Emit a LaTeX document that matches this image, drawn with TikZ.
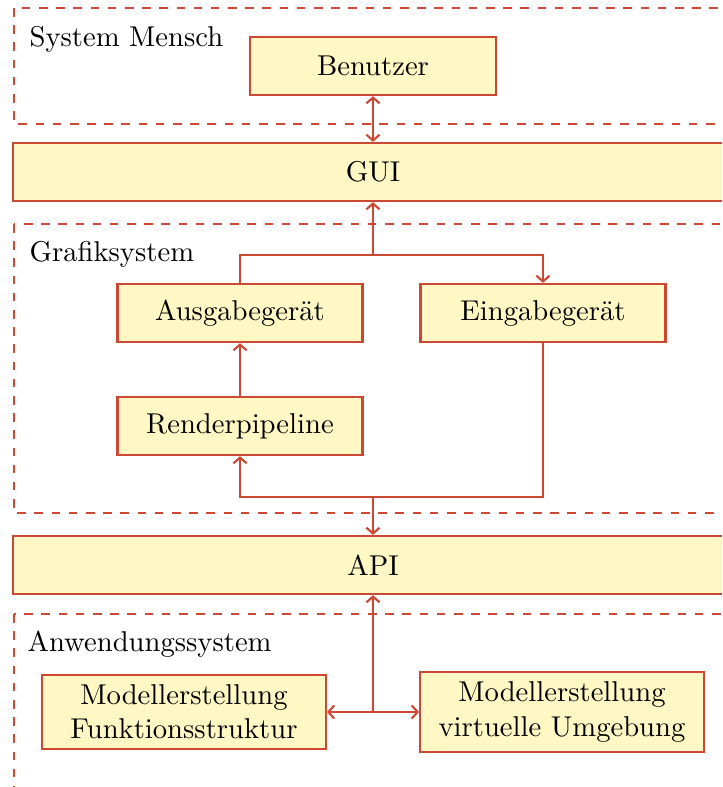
\documentclass[tikz,border=0pt]{standalone}
\usetikzlibrary{arrows.meta}
\definecolor{edge}{HTML}{CB4934}
\definecolor{boxfill}{HTML}{FFF8C4}
\begin{document}
\begin{tikzpicture}[x=0.349pt,y=-0.349pt,
  block/.style={draw=edge, fill=boxfill, line width=0.75pt, minimum height=20.3pt,
    inner sep=3.33pt, align=center},
  group/.style={draw=edge, dashed, line width=0.42pt},
  grouplabel/.style={anchor=base west, inner sep=0pt},
  link/.style={draw=edge, line width=0.75pt},
  barb/.tip={Straight Barb[length=2pt,width=4.6pt]},
  tip/.style={-barb},
  both/.style={barb-barb}]
\useasboundingbox (0,0) rectangle (722,787);
\clip (0,0) rectangle (722,787);

% subsystem frames
\draw[group] (14,8) rectangle (740,124);
\draw[group] (14,224) rectangle (740,513);
\draw[group] (14,614) rectangle (740,800);

\node[grouplabel] (lblmensch) at (29,46) {System Mensch};
\node[grouplabel] (lblgrafik) at (29,261) {Grafiksystem};
\node[grouplabel] (lblanw) at (27,651) {Anwendungssystem};

% blocks
\node[block, minimum width=85.8pt] (user) at (373,66) {Benutzer};
\node[block, minimum width=251pt] (gui) at (373,172) {GUI};
\node[block, minimum width=85.5pt] (out) at (240,313) {Ausgabegerät};
\node[block, minimum width=85.5pt] (in) at (543,313) {Eingabegerät};
\node[block, minimum width=85.5pt] (render) at (240,426) {Renderpipeline};
\node[block, minimum width=251pt] (api) at (373,565) {API};
\node[block, minimum width=99.1pt] (mfs) at (184,712) {Modellerstellung\\Funktionsstruktur};
\node[block, minimum width=99.1pt] (mvu) at (562,712) {Modellerstellung\\virtuelle Umgebung};

% connectors
\draw[link, both] (user) -- (gui);

\coordinate (split) at (373,255);
\draw[link, tip] (split) -- (gui);
\draw[link, tip] (out.north) |- (split) -| (in.north);

\draw[link, tip] (render) -- (out);

\coordinate (merge) at (373,497);
\draw[link, tip] (in.south) |- (merge) -| (render.south);
\draw[link, tip] (merge) -- (api);

\coordinate (hub) at (373,712);
\draw[link, tip] (hub) -- (api);
\draw[link, tip] (hub) -- (mfs);
\draw[link, tip] (hub) -- (mvu);
\end{tikzpicture}
\end{document}
